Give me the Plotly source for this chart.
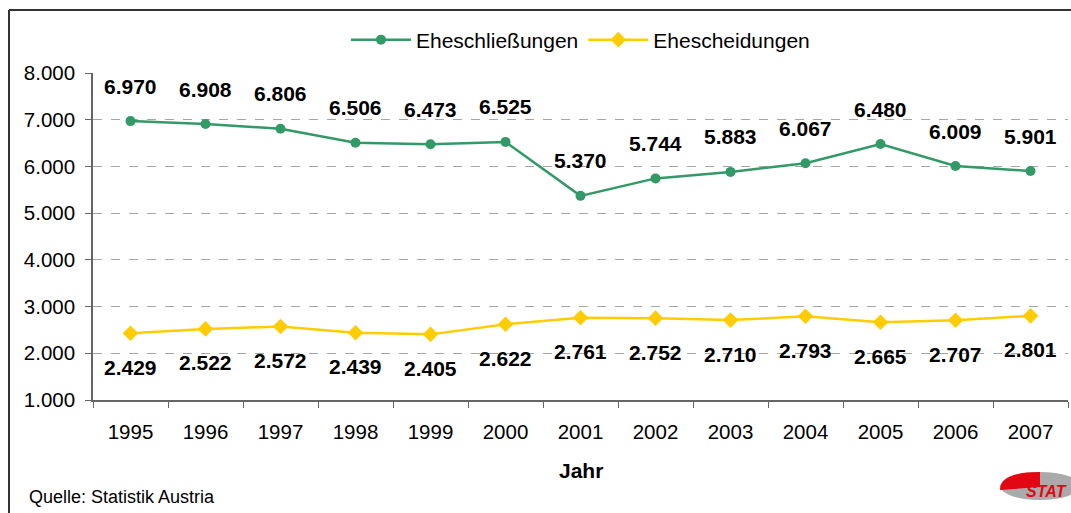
import plotly.graph_objects as go

years = ["1995", "1996", "1997", "1998", "1999", "2000", "2001",
         "2002", "2003", "2004", "2005", "2006", "2007"]
eheschliessungen = [6970, 6908, 6806, 6506, 6473, 6525, 5370,
                    5744, 5883, 6067, 6480, 6009, 5901]
ehescheidungen = [2429, 2522, 2572, 2439, 2405, 2622, 2761,
                  2752, 2710, 2793, 2665, 2707, 2801]
y_ticks = [1000, 2000, 3000, 4000, 5000, 6000, 7000, 8000]
y_tick_labels = ["1.000", "2.000", "3.000", "4.000", "5.000", "6.000", "7.000", "8.000"]

GREEN = "#339966"
YELLOW = "#FFCC00"
FONT = "Liberation Sans, Arial, sans-serif"


def de_fmt(v):
    return f"{v:,}".replace(",", ".")


fig = go.Figure()
fig.add_trace(go.Scatter(
    x=years, y=eheschliessungen, name="Eheschließungen", mode="lines+markers",
    line=dict(color=GREEN, width=2.5),
    marker=dict(symbol="circle", size=10, color=GREEN),
))
fig.add_trace(go.Scatter(
    x=years, y=ehescheidungen, name="Ehescheidungen", mode="lines+markers",
    line=dict(color=YELLOW, width=2.5),
    marker=dict(symbol="diamond", size=12, color=YELLOW),
))

annotations = []
for i, v in enumerate(eheschliessungen):
    annotations.append(dict(x=i, y=v, xref="x", yref="y", text=f"<b>{de_fmt(v)}</b>",
                            showarrow=False, yshift=35,
                            font=dict(family=FONT, size=21, color="black")))
for i, v in enumerate(ehescheidungen):
    annotations.append(dict(x=i, y=v, xref="x", yref="y", text=f"<b>{de_fmt(v)}</b>",
                            showarrow=False, yshift=-34,
                            font=dict(family=FONT, size=21, color="black")))

annotations.append(dict(x=0.5, y=(400 - 470) / 327, xref="paper", yref="paper", text="<b>Jahr</b>",
                        showarrow=False, xanchor="center", yanchor="middle",
                        font=dict(family=FONT, size=21, color="black")))
annotations.append(dict(x=(27 - 93) / 975, y=(400 - 497) / 327, xref="paper", yref="paper",
                        text="Quelle: Statistik Austria", showarrow=False,
                        xanchor="left", yanchor="middle",
                        font=dict(family=FONT, size=18, color="black")))
# logo approximation
annotations.append(dict(x=(1024 - 93) / 975, y=(400 - 491) / 327, xref="paper", yref="paper",
                        text="<b><i>STAT</i></b>", showarrow=False,
                        xanchor="left", yanchor="middle",
                        font=dict(family=FONT, size=16, color="#E30613")))

shapes = [
    # outer chart border (left and top)
    dict(type="line", xref="paper", yref="paper",
         x0=(9 - 93) / 975, x1=(9 - 93) / 975, y0=(400 - 10) / 327, y1=-0.5,
         line=dict(color="#333333", width=2)),
    dict(type="line", xref="paper", yref="paper",
         x0=(9 - 93) / 975, x1=1.1, y0=(400 - 10) / 327, y1=(400 - 10) / 327,
         line=dict(color="#333333", width=2)),
    # logo ellipse approximation
    dict(type="circle", xref="paper", yref="paper",
         x0=(1000 - 93) / 975, x1=(1080 - 93) / 975,
         y0=(400 - 500) / 327, y1=(400 - 472) / 327,
         fillcolor="#AAAAAA", line=dict(width=0), layer="below"),
    dict(type="path", xref="paper", yref="paper",
         path=f"M {(1040 - 93) / 975},{(400 - 487) / 327} L {(1040 - 93) / 975},{(400 - 472) / 327} "
              f"Q {(1000 - 93) / 975},{(400 - 472) / 327} {(1000 - 93) / 975},{(400 - 490) / 327} Z",
         fillcolor="#E30613", line=dict(width=0), layer="below"),
]

fig.update_layout(
    width=1071, height=513,
    margin=dict(l=93, r=3, t=73, b=113, autoexpand=False),
    paper_bgcolor="white", plot_bgcolor="white",
    font=dict(family=FONT, size=20, color="black"),
    showlegend=True,
    legend=dict(orientation="h", x=0.5, xanchor="center", y=(400 - 40) / 327, yanchor="middle",
                font=dict(family=FONT, size=21, color="black"),
                bgcolor="rgba(0,0,0,0)", itemwidth=60, tracegroupgap=0),
    annotations=annotations,
    shapes=shapes,
    xaxis=dict(type="category", range=[-0.5, 12.5], showgrid=False,
               showline=True, linecolor="#666666", linewidth=1.5,
               ticks="outside", ticklen=6, tickcolor="#666666", tickson="boundaries",
               tickfont=dict(family=FONT, size=20.5, color="black"), ticklabelstandoff=13),
    yaxis=dict(range=[1000, 8000], tickvals=y_ticks, ticktext=y_tick_labels,
               showgrid=True, gridcolor="#A6A6A6", griddash="dash", gridwidth=1,
               showline=True, linecolor="#666666", linewidth=1.5,
               ticks="outside", ticklen=6, tickcolor="#666666", ticklabelstandoff=6,
               tickfont=dict(family=FONT, size=20.5, color="black"), zeroline=False),
)

fig.write_html("out.html", config={"displayModeBar": False},
               post_script="document.body.style.margin='0';document.body.style.overflow='hidden';")
